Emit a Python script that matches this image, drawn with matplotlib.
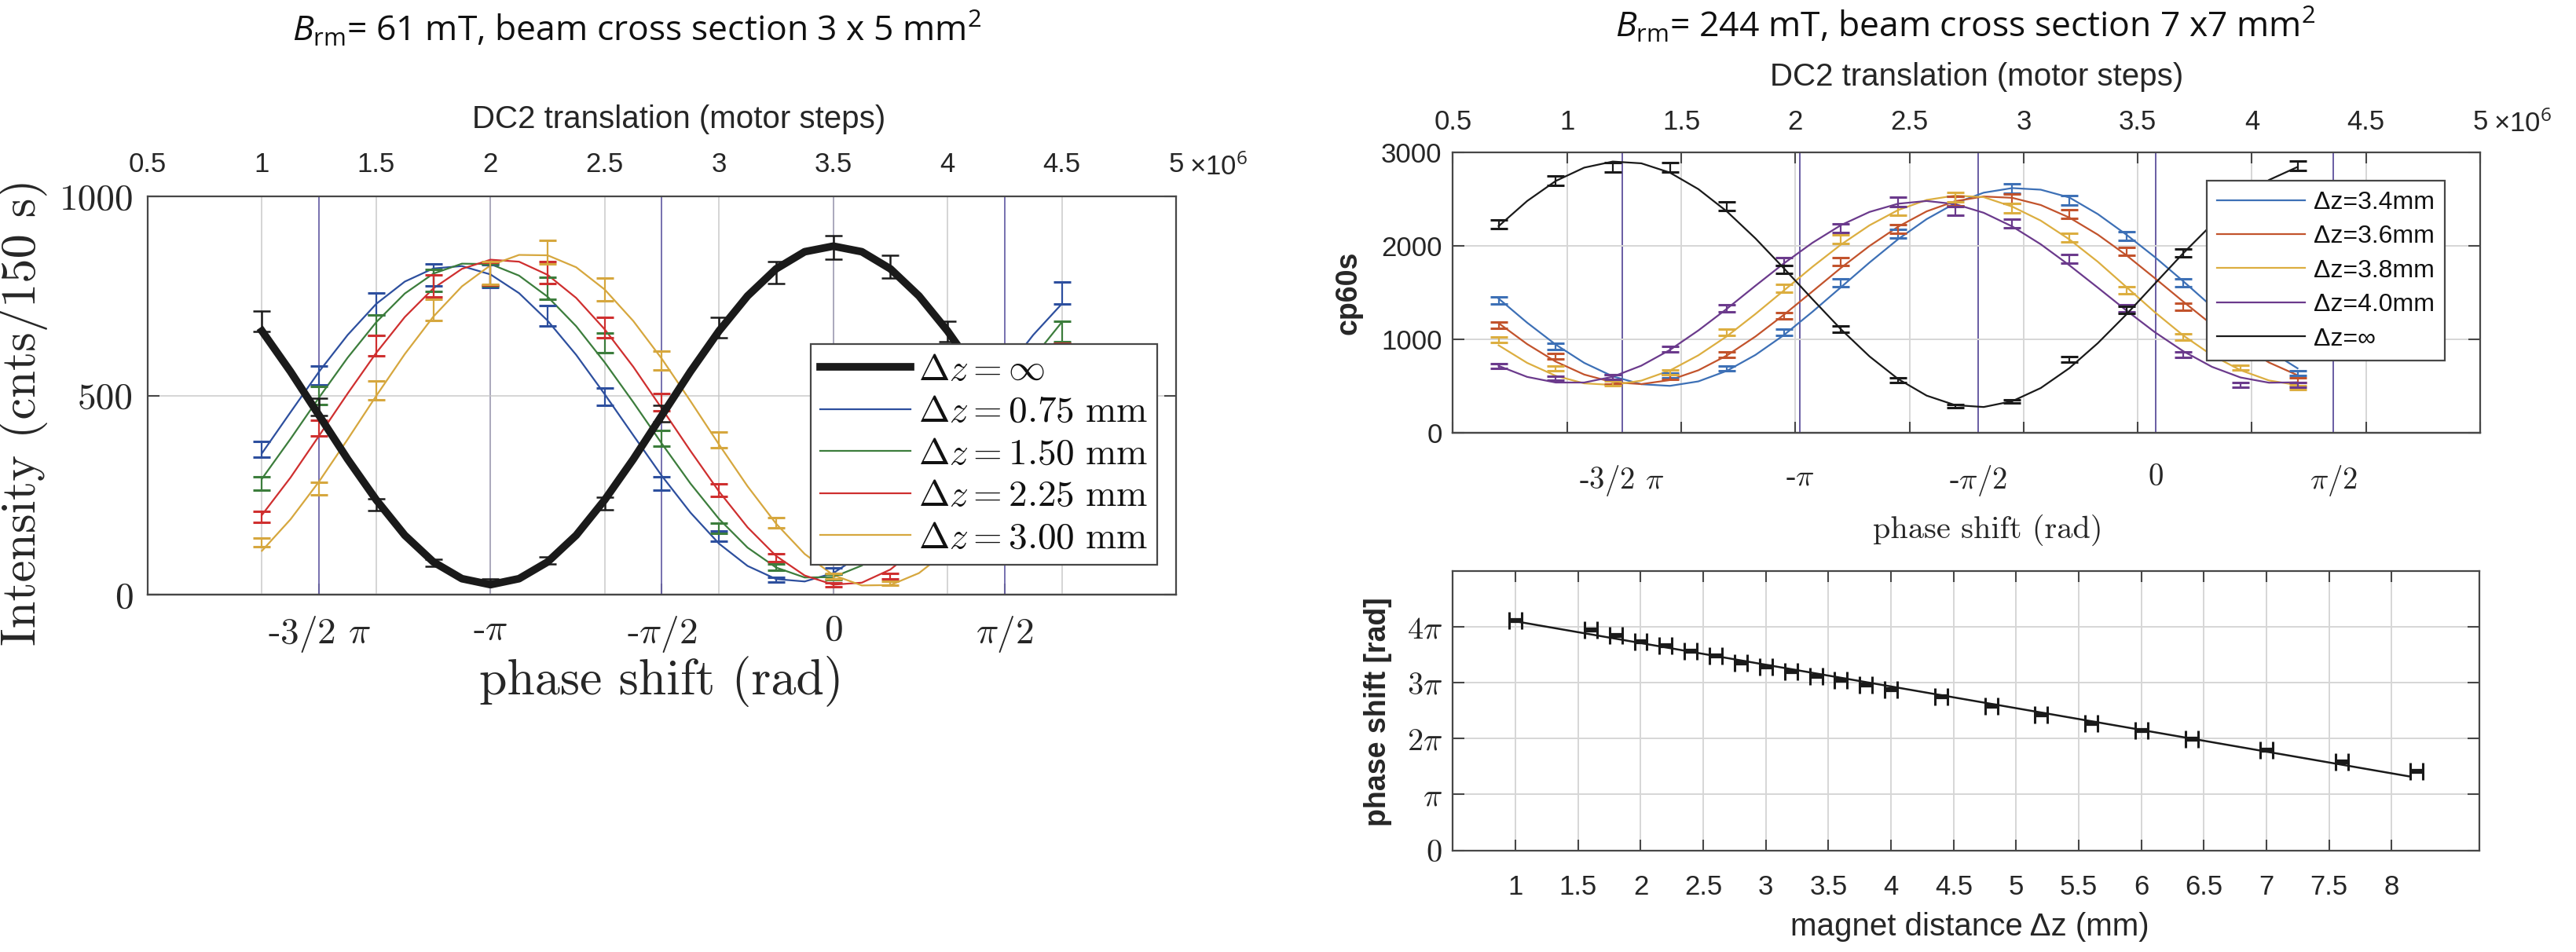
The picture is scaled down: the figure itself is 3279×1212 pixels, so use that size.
import matplotlib
matplotlib.use('Agg')
import matplotlib.pyplot as plt

plt.rcParams['font.family'] = 'Liberation Sans'
plt.rcParams['mathtext.fontset'] = 'custom'
plt.rcParams['mathtext.rm'] = 'Open Sans'
plt.rcParams['mathtext.it'] = 'Open Sans:italic'

W, H = 3279, 1212
DARK = '#262626'
SPINE = '#474747'
GRID = '#d6d6d6'
CM = 'cmr10'

# ---------------- left panel: B_rm = 61 mT (x in 1e6 motor steps) ----------------
L_X = [1.0, 1.25, 1.5, 1.75, 2.0, 2.25, 2.5, 2.75, 3.0, 3.25, 3.5, 3.75, 4.0, 4.25, 4.5]
L_INF = [686, 471, 226, 80, 34, 85, 229, 454, 670, 809, 872, 823, 661]
L_INF_ERR = [26, 22, 15, 9, 6, 9, 15, 21, 26, 28, 30, 29, 26]
L_075 = [365, 550, 730, 803, 800, 700, 497, 279, 147, 38, 60, 170, 355, 560, 757]
L_075_ERR = [19, 23, 27, 28, 28, 26, 22, 17, 12, 6, 8, 13, 19, 24, 28]
L_150 = [279, 500, 676, 789, 803, 769, 632, 393, 167, 69, 45, 126, 291, 495, 661]
L_150_ERR = [17, 22, 26, 28, 28, 28, 25, 20, 13, 8, 7, 11, 17, 22, 26]
L_225 = [196, 418, 625, 775, 806, 809, 671, 483, 262, 93, 24, 47, 200, 399, 607]
L_225_ERR = [14, 20, 25, 28, 28, 28, 26, 22, 16, 10, 5, 7, 14, 20, 25]
L_300 = [131, 266, 513, 715, 808, 860, 766, 588, 389, 181, 47, 28, 110, 284, 499]
L_300_ERR = [11, 16, 23, 27, 28, 29, 28, 24, 20, 13, 7, 5, 10, 17, 22]

# fitted curves
L_FIT_X = [1.0, 1.125, 1.25, 1.375, 1.5, 1.625, 1.75, 1.875, 2.0, 2.125, 2.25, 2.375,
           2.5, 2.625, 2.75, 2.875, 3.0, 3.125, 3.25, 3.375, 3.5, 3.625, 3.75, 3.875,
           4.0, 4.125, 4.25, 4.375, 4.5]
L_INF_FIT = [662, 560, 450, 340, 238, 149, 82, 40, 25, 40, 82, 149, 238, 340, 450, 560,
             662, 750, 818, 861, 875, 861, 818, 750, 662, 560, 450]
L_075_FIT = [355, 458, 560, 652, 730, 786, 819, 825, 804, 757, 688, 602, 503, 400, 298,
             206, 128, 72, 39, 33, 54, 101, 170, 256, 355, 458, 560, 652, 730]
L_150_FIT = [291, 391, 495, 595, 684, 756, 806, 831, 830, 801, 748, 674, 583, 483, 379,
             279, 190, 118, 68, 43, 44, 73, 126, 200, 291, 391, 495, 595, 684]
L_225_FIT = [200, 294, 399, 505, 607, 697, 769, 818, 841, 836, 803, 745, 666, 572, 467,
             361, 259, 169, 97, 48, 25, 30, 63, 121, 200, 294, 399, 505, 607]
L_300_FIT = [110, 189, 284, 390, 499, 604, 698, 774, 827, 853, 852, 822, 766, 687, 592,
             486, 377, 272, 178, 102, 49, 23, 24, 54, 110, 189, 284, 390, 499]

L_LABELS = [r'$\Delta z = 0.75\ \mathrm{mm}$', r'$\Delta z = 1.50\ \mathrm{mm}$',
            r'$\Delta z = 2.25\ \mathrm{mm}$', r'$\Delta z = 3.00\ \mathrm{mm}$']
L_COLORS = ['#2d4f9e', '#3c7d3c', '#cf2f2f', '#d6a73e']

STEP_TICKS = [0.5, 1.0, 1.5, 2.0, 2.5, 3.0, 3.5, 4.0, 4.5, 5.0]
STEP_LABELS = ['0.5', '1', '1.5', '2', '2.5', '3', '3.5', '4', '4.5', '5']
PHASE_LABELS = ['-3/2 $\\pi$', '-$\\pi$', '-$\\pi$/2', '0', '$\\pi$/2']
L_PHASE_POS = [1.25, 2.0, 2.75, 3.5, 4.25]

# ---------------- right top panel: B_rm = 244 mT ----------------
R_X = [0.7, 0.95, 1.2, 1.45, 1.7, 1.95, 2.2, 2.45, 2.7, 2.95, 3.2, 3.45, 3.7, 3.95, 4.2]
R_INF = [2230, 2695, 2840, 2840, 2423, 1749, 1107, 561, 289, 337, 786, 1316, 1925, 2470, 2856]
R_INF_ERR = [47, 52, 53, 53, 49, 42, 33, 24, 17, 18, 28, 36, 44, 50, 53]
R_34 = [1412, 924, 594, 610, 690, 1075, 1604, 2134, 2477, 2615, 2487, 2102, 1604, 1100, 642]
R_34_ERR = [38, 30, 24, 25, 26, 33, 40, 46, 50, 51, 50, 46, 40, 33, 25]
R_36 = [1155, 818, 545, 594, 834, 1251, 1829, 2182, 2477, 2503, 2342, 1941, 1348, 930, 561]
R_36_ERR = [34, 29, 23, 24, 29, 35, 43, 47, 50, 50, 48, 44, 37, 30, 24]
R_38 = [995, 690, 529, 650, 1075, 1547, 2070, 2374, 2519, 2406, 2086, 1524, 1027, 700, 481]
R_38_ERR = [32, 26, 23, 25, 33, 39, 45, 49, 50, 49, 46, 39, 32, 26, 22]
R_40 = [712, 584, 594, 898, 1332, 1829, 2188, 2471, 2374, 2240, 1861, 1332, 834, 513, 513]
R_40_ERR = [27, 24, 24, 30, 36, 43, 47, 50, 49, 47, 43, 36, 29, 23, 23]

R_FIT_X = [0.7, 0.825, 0.95, 1.075, 1.2, 1.325, 1.45, 1.575, 1.7, 1.825, 1.95, 2.075,
           2.2, 2.325, 2.45, 2.575, 2.7, 2.825, 2.95, 3.075, 3.2, 3.325, 3.45, 3.575,
           3.7, 3.825, 3.95, 4.075, 4.2]
R_INF_FIT = [2211, 2480, 2694, 2837, 2902, 2883, 2784, 2607, 2368, 2080, 1759, 1429, 1107,
             817, 576, 398, 296, 276, 338, 479, 691, 959, 1266, 1596, 1923, 2229, 2497,
             2705, 2844]
R_34_FIT = [1436, 1178, 944, 748, 604, 520, 502, 550, 663, 833, 1046, 1295, 1558, 1822,
            2071, 2286, 2456, 2569, 2618, 2601, 2518, 2340, 2120, 1880, 1620, 1350, 1100,
            880, 690]
R_36_FIT = [1173, 949, 762, 623, 541, 521, 564, 669, 827, 1030, 1263, 1513, 1765, 1999,
            2205, 2369, 2478, 2528, 2514, 2437, 2303, 2120, 1900, 1654, 1402, 1157, 936,
            752, 616]
R_38_FIT = [936, 748, 610, 529, 512, 558, 666, 829, 1033, 1271, 1523, 1776, 2014, 2220,
            2383, 2491, 2538, 2521, 2420, 2270, 2070, 1830, 1560, 1290, 1040, 830, 670,
            560, 510]
R_40_FIT = [716, 598, 538, 538, 600, 718, 886, 1095, 1327, 1573, 1813, 2033, 2222, 2363,
            2451, 2480, 2447, 2354, 2208, 2017, 1793, 1553, 1309, 1076, 872, 706, 592,
            536, 540]

R_LABELS = ['Δz=3.4mm', 'Δz=3.6mm', 'Δz=3.8mm', 'Δz=4.0mm']
R_COLORS = ['#3d70b6', '#c2532c', '#dcae40', '#6b3a8c']
R_PHASE_POS = [1.24, 2.02, 2.80, 3.578, 4.358]
CP_TICKS = [0, 1000, 2000, 3000]

# ---------------- right bottom panel: phase shift vs magnet distance ----------------
DZ = [1.0, 1.6, 1.8, 2.0, 2.2, 2.4, 2.6, 2.8, 3.0, 3.2, 3.4, 3.6, 3.8, 4.0, 4.4, 4.8,
      5.2, 5.6, 6.0, 6.4, 7.0, 7.6, 8.2]
PHI = [4.12, 3.95, 3.84, 3.74, 3.66, 3.56, 3.48, 3.36, 3.29, 3.20, 3.12, 3.05, 2.96,
       2.88, 2.75, 2.58, 2.43, 2.27, 2.14, 1.99, 1.79, 1.58, 1.41]   # in units of pi
DZ_ERR = 0.05
FIT_DZ = [1.0, 8.15]
FIT_PHI = [4.10, 1.32]
DZ_TICKS = [1, 1.5, 2, 2.5, 3, 3.5, 4, 4.5, 5, 5.5, 6, 6.5, 7, 7.5, 8]
DZ_LABELS = ['1', '1.5', '2', '2.5', '3', '3.5', '4', '4.5', '5', '5.5', '6', '6.5', '7', '7.5', '8']
PI_TICKS = [0, 1, 2, 3, 4]
PI_LABELS = ['0', '$\\pi$', '2$\\pi$', '3$\\pi$', '4$\\pi$']


fig = plt.figure(figsize=(W / 100, H / 100), dpi=100)


def px_box(x0, y0, x1, y1):
    return [x0 / W, 1 - y1 / H, (x1 - x0) / W, (y1 - y0) / H]


def ftext(x, y, s, **kw):
    kw.setdefault('ha', 'center')
    kw.setdefault('va', 'center')
    kw.setdefault('color', DARK)
    return fig.text(x / W, 1 - y / H, s, **kw)


def style_spines(ax):
    for sp in ax.spines.values():
        sp.set_color(SPINE)
        sp.set_linewidth(1.6)


# ================= left panel =================
axL = fig.add_axes(px_box(188, 250, 1497, 757))
axL.set_xlim(0.5, 5.0)
axL.set_ylim(0, 1000)
for p in L_PHASE_POS:
    axL.axvline(p, color='#6b64a8', lw=1.3, zorder=0.3)
axL.set_axisbelow(True)
axL.grid(True, color='#c4c4c4', lw=1.4, alpha=0.7)

axL.plot(L_FIT_X[:len(L_INF_FIT)], L_INF_FIT, color='#1a1a1a', lw=7, zorder=3,
         label=r'$\Delta z = \infty$')
axL.errorbar(L_X[:len(L_INF)], L_INF, yerr=L_INF_ERR, fmt='none', ecolor='#1a1a1a',
             elinewidth=1.8, capsize=8, capthick=1.8, zorder=3.1)
for lab, c, fit, pts, err in zip(L_LABELS, L_COLORS,
                                 [L_075_FIT, L_150_FIT, L_225_FIT, L_300_FIT],
                                 [L_075, L_150, L_225, L_300],
                                 [L_075_ERR, L_150_ERR, L_225_ERR, L_300_ERR]):
    axL.plot(L_FIT_X, fit, color=c, lw=1.6, zorder=2.5, label=lab)
    axL.errorbar(L_X, pts, yerr=err, fmt='none', ecolor=c, elinewidth=1.6,
                 capsize=8, capthick=2.2, zorder=2.6)

axL.set_xticks(STEP_TICKS, STEP_LABELS)
axL.xaxis.set_ticks_position('top')
axL.tick_params(axis='x', top=True, bottom=False, labeltop=True, labelbottom=False,
                direction='in', length=0, pad=17, labelsize=25, labelcolor=DARK)
axL.set_yticks([0, 500, 1000], ['0', '500', '1000'], fontfamily=CM)
axL.tick_params(axis='y', direction='in', left=True, right=True, length=11, width=1.5,
                color=SPINE, pad=13, labelsize=34, labelcolor=DARK)
style_spines(axL)

secL = axL.secondary_xaxis('bottom')
secL.set_xticks(L_PHASE_POS, PHASE_LABELS, fontfamily=CM, math_fontfamily='cm')
secL.tick_params(direction='in', length=10, width=1.5, color=SPINE, pad=18,
                 labelsize=34, labelcolor=DARK)
style_spines(secL)

legL = axL.legend(loc='upper left', bbox_to_anchor=(0.6448, 0.6292), borderaxespad=0,
                  fontsize=34, fancybox=False, edgecolor=SPINE, framealpha=1,
                  handlelength=2.43, handletextpad=0.22, borderpad=0.25, labelspacing=0.2)
legL.get_frame().set_linewidth(1.6)
for t in legL.get_texts():
    t.set_math_fontfamily('cm')
    t.set_color('#111111')

ftext(1514, 213, '×10$^6$', fontsize=25, ha='left')
ftext(864, 152, 'DC2 translation (motor steps)', fontsize=29)
ftext(842, 867, 'phase shift (rad)', fontsize=46, fontfamily=CM)
ftext(30, 525, 'Intensity (cnts/150 s)', fontsize=45, fontfamily=CM, rotation=90)
ftext(811, 38, r'$B_{\mathrm{rm}}$= 61 mT, beam cross section 3 x 5 mm$^2$',
      fontsize=32, fontfamily='Open Sans', color='#111111')

# ================= right top panel =================
axR = fig.add_axes(px_box(1849.5, 194, 3157, 551))
axR.set_xlim(0.5, 5.0)
axR.set_ylim(0, 3000)
for p in R_PHASE_POS:
    axR.axvline(p, color='#5d4f9c', lw=1.3, zorder=0.3)
axR.set_axisbelow(True)
axR.grid(True, color=GRID, lw=1.4)

for lab, c, fit, pts, err in zip(R_LABELS, R_COLORS,
                                 [R_34_FIT, R_36_FIT, R_38_FIT, R_40_FIT],
                                 [R_34, R_36, R_38, R_40],
                                 [R_34_ERR, R_36_ERR, R_38_ERR, R_40_ERR]):
    axR.plot(R_FIT_X, fit, color=c, lw=1.6, zorder=2.5, label=lab)
    axR.errorbar(R_X, pts, yerr=err, fmt='none', ecolor=c, elinewidth=1.6,
                 capsize=8, capthick=2.2, zorder=2.6)
axR.plot(R_FIT_X, R_INF_FIT, color='#1a1a1a', lw=1.6, zorder=3, label='Δz=∞')
axR.errorbar(R_X, R_INF, yerr=R_INF_ERR, fmt='none', ecolor='#1a1a1a', elinewidth=1.6,
             capsize=8, capthick=2.2, zorder=3.1)

axR.set_xticks(STEP_TICKS, STEP_LABELS)
axR.xaxis.set_ticks_position('both')
axR.tick_params(axis='x', top=True, bottom=True, labeltop=True, labelbottom=False,
                direction='in', length=10, width=1.5, color=SPINE, pad=16,
                labelsize=25, labelcolor=DARK)
axR.set_yticks(CP_TICKS, [str(v) for v in CP_TICKS])
axR.tick_params(axis='y', direction='in', left=True, right=True, length=11, width=1.5,
                color=SPINE, pad=10, labelsize=25, labelcolor=DARK)
style_spines(axR)

secR = axR.secondary_xaxis('bottom')
secR.set_xticks(R_PHASE_POS, PHASE_LABELS, fontfamily=CM, math_fontfamily='cm')
secR.tick_params(direction='in', length=0, pad=28, labelsize=28, labelcolor=DARK)
style_spines(secR)

legR = axR.legend(loc='upper left', bbox_to_anchor=(0.7338, 0.899), borderaxespad=0,
                  fontsize=23, fancybox=False, edgecolor=SPINE, framealpha=1,
                  handlelength=3.5, handletextpad=0.36, borderpad=0.4, labelspacing=0.42)
legR.get_frame().set_linewidth(1.6)
for t in legR.get_texts():
    t.set_color('#111111')

ftext(3174, 158, '×10$^6$', fontsize=25, ha='left')
ftext(2516, 98, 'DC2 translation (motor steps)', fontsize=29)
ftext(2530, 675, 'phase shift (rad)', fontsize=29, fontfamily=CM)
ftext(1717, 373, 'cp60s', fontsize=27, fontweight='bold', rotation=90)
ftext(2502, 33, r'$B_{\mathrm{rm}}$= 244 mT, beam cross section 7 x7 mm$^2$',
      fontsize=32, fontfamily='Open Sans', color='#111111')

# ================= right bottom panel =================
axB = fig.add_axes(px_box(1849.5, 727, 3156, 1082.6))
axB.set_xlim(0.5, 8.7)
axB.set_ylim(0, 5)
axB.set_axisbelow(True)
axB.grid(True, color=GRID, lw=1.4)
axB.plot(FIT_DZ, FIT_PHI, color='#1a1a1a', lw=1.8, zorder=3)
axB.errorbar(DZ, PHI, xerr=DZ_ERR, fmt='none', ecolor='#1a1a1a', elinewidth=4.5,
             capsize=8, capthick=2.2, zorder=3.1)
axB.set_xticks(DZ_TICKS, DZ_LABELS)
axB.tick_params(axis='x', top=True, bottom=True, direction='in', length=10, width=1.5,
                color=SPINE, pad=22, labelsize=25, labelcolor=DARK)
axB.set_yticks(PI_TICKS, PI_LABELS, fontfamily=CM, math_fontfamily='cm')
axB.tick_params(axis='y', left=True, right=True, direction='in', length=11, width=1.5,
                color=SPINE, pad=10, labelsize=29, labelcolor=DARK)
style_spines(axB)

ftext(2507, 1180, 'magnet distance Δz (mm)', fontsize=29)
ftext(1754, 906, 'phase shift [rad]', fontsize=27, fontweight='bold', rotation=90)

fig.savefig('out.png', dpi=100, facecolor='white')
